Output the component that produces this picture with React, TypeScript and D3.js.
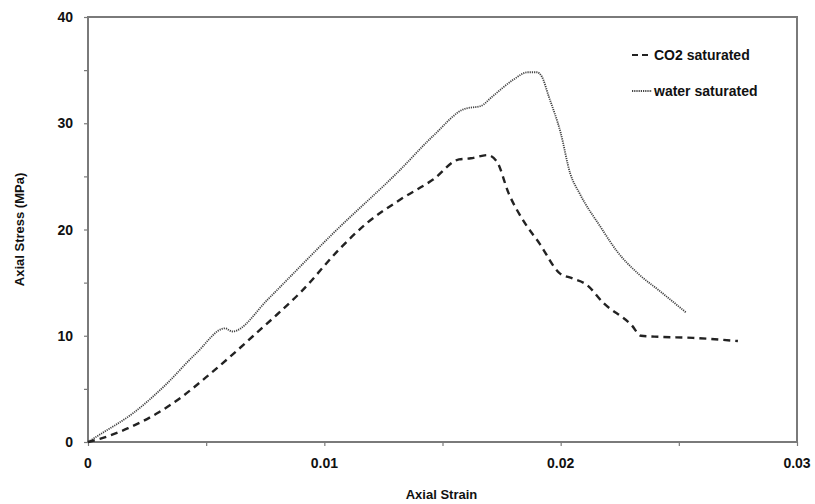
import { useEffect, useRef } from "react";
import * as d3 from "d3";

// strain values
const co2Strain = [0, 0.0005, 0.0017, 0.003, 0.004, 0.005, 0.006, 0.007, 0.008, 0.009, 0.0107, 0.0118, 0.0132, 0.0146, 0.0157, 0.0162, 0.0169, 0.0173, 0.0178, 0.0184, 0.0191, 0.01995, 0.0205, 0.0211, 0.0218, 0.023, 0.0234, 0.0242, 0.0256, 0.0275];
const co2Stress = [0, 0.3, 1.3, 2.8, 4.3, 6.1, 8.0, 10.0, 12.0, 14.1, 18.3, 20.6, 22.8, 24.7, 26.6, 26.7, 27.0, 26.4, 23.4, 20.9, 18.7, 15.9, 15.4, 14.8, 13.1, 11.0, 10.0, 9.9, 9.8, 9.5];

const waterStrain = [0, 0.0005, 0.0019, 0.0032, 0.0046, 0.0058, 0.0061, 0.0076, 0.008, 0.0104, 0.0132, 0.0146, 0.016, 0.0163, 0.0166, 0.0171, 0.018, 0.0186, 0.019, 0.0192, 0.0195, 0.02, 0.0204, 0.0208, 0.0217, 0.0224, 0.0233, 0.0242, 0.0253];
const waterStress = [0, 0.7, 2.7, 5.2, 8.4, 10.7, 10.4, 13.4, 14.3, 19.7, 25.6, 28.8, 31.4, 31.5, 31.6, 32.5, 34.1, 34.8, 34.8, 34.4, 32.5, 29.1, 25.3, 23.4, 20.2, 17.9, 15.8, 14.2, 12.2];

const xTicks = [0, 0.01, 0.02, 0.03];
const xTickLabels = ["0", "0.01", "0.02", "0.03"];
const xMinor = [0.005, 0.015, 0.025];
const yTicks = [0, 10, 20, 30, 40];
const yMinor = [5, 15, 25, 35];

const seriesNames = ["CO2 saturated", "water saturated"];

export default function App() {
  const ref = useRef<SVGSVGElement>(null);

  useEffect(() => {
    const svg = d3.select(ref.current);
    svg.selectAll("*").remove();

    const width = 815;
    const height = 504;
    const margin = { top: 17, right: 18, bottom: 62, left: 88 };
    const innerWidth = width - margin.left - margin.right;
    const innerHeight = height - margin.top - margin.bottom;
    const font = "'Liberation Sans', Arial, sans-serif";
    const axisColor = "#7a7a7a";

    svg.attr("width", width).attr("height", height);

    const chart = svg
      .append("g")
      .attr("transform", `translate(${margin.left},${margin.top})`);

    const x = d3.scaleLinear().domain([0, 0.03]).range([0, innerWidth]);
    const y = d3.scaleLinear().domain([0, 40]).range([innerHeight, 0]);

    // frame
    chart.append("rect")
      .attr("x", 0)
      .attr("y", 0)
      .attr("width", innerWidth)
      .attr("height", innerHeight)
      .attr("fill", "none")
      .attr("stroke", axisColor)
      .attr("stroke-width", 2);

    const yAxis = chart.append("g")
      .call(d3.axisLeft(y).tickValues([...yTicks, ...yMinor]).tickSize(4).tickFormat(() => ""));
    yAxis.select(".domain").remove();
    yAxis.selectAll("line").attr("stroke", axisColor).attr("stroke-width", 1.2);

    const xAxis = chart.append("g")
      .attr("transform", `translate(0,${innerHeight})`)
      .call(d3.axisBottom(x).tickValues([...xTicks, ...xMinor]).tickSize(4).tickFormat(() => ""));
    xAxis.select(".domain").remove();
    xAxis.selectAll("line").attr("stroke", axisColor).attr("stroke-width", 1.2);

    chart.selectAll(".ylab")
      .data(yTicks)
      .enter()
      .append("text")
      .attr("x", -15)
      .attr("y", d => y(d) + 5)
      .attr("text-anchor", "end")
      .attr("font-family", font)
      .attr("font-weight", "bold")
      .attr("font-size", "14px")
      .attr("fill", "#111")
      .text(d => String(d));

    chart.selectAll(".xlab")
      .data(xTicks)
      .enter()
      .append("text")
      .attr("x", d => x(d))
      .attr("y", innerHeight + 26)
      .attr("text-anchor", "middle")
      .attr("font-family", font)
      .attr("font-weight", "bold")
      .attr("font-size", "14px")
      .attr("fill", "#111")
      .text((d, i) => xTickLabels[i]);

    chart.append("text")
      .attr("x", innerWidth / 2 - 1)
      .attr("y", innerHeight + 57)
      .attr("text-anchor", "middle")
      .attr("font-family", font)
      .attr("font-weight", "bold")
      .attr("font-size", "13px")
      .attr("fill", "#111")
      .text("Axial Strain");

    chart.append("text")
      .attr("transform", `translate(${-64},${innerHeight / 2}) rotate(-90)`)
      .attr("text-anchor", "middle")
      .attr("font-family", font)
      .attr("font-weight", "bold")
      .attr("font-size", "13px")
      .attr("fill", "#111")
      .text("Axial Stress (MPa)");

    const line = d3.line<[number, number]>()
      .x(d => x(d[0]))
      .y(d => y(d[1]))
      .curve(d3.curveMonotoneX);

    const co2 = co2Strain.map((s, i) => [s, co2Stress[i]] as [number, number]);
    const water = waterStrain.map((s, i) => [s, waterStress[i]] as [number, number]);

    chart.append("path")
      .datum(water)
      .attr("d", line)
      .attr("fill", "none")
      .attr("stroke", "#444")
      .attr("stroke-width", 1.8)
      .attr("stroke-dasharray", "1.2,1");

    chart.append("path")
      .datum(co2)
      .attr("d", line)
      .attr("fill", "none")
      .attr("stroke", "#222")
      .attr("stroke-width", 2.4)
      .attr("stroke-dasharray", "7,5");

    // legend
    const legend = [
      { name: seriesNames[0], dash: "6,4", stroke: "#222", sw: 2, y: 55 - margin.top },
      { name: seriesNames[1], dash: "1.2,1", stroke: "#444", sw: 1.8, y: 91 - margin.top }
    ];
    legend.forEach(l => {
      chart.append("line")
        .attr("x1", 632 - margin.left)
        .attr("x2", 652 - margin.left)
        .attr("y1", l.y)
        .attr("y2", l.y)
        .attr("stroke", l.stroke)
        .attr("stroke-width", l.sw)
        .attr("stroke-dasharray", l.dash);
      chart.append("text")
        .attr("x", 654 - margin.left)
        .attr("y", l.y + 5)
        .attr("font-family", font)
        .attr("font-weight", "bold")
        .attr("font-size", "14px")
        .attr("fill", "#111")
        .text(l.name);
    });
  }, []);

  return <svg ref={ref} style={{ position: "absolute", left: 0, top: 0 }}></svg>;
}
